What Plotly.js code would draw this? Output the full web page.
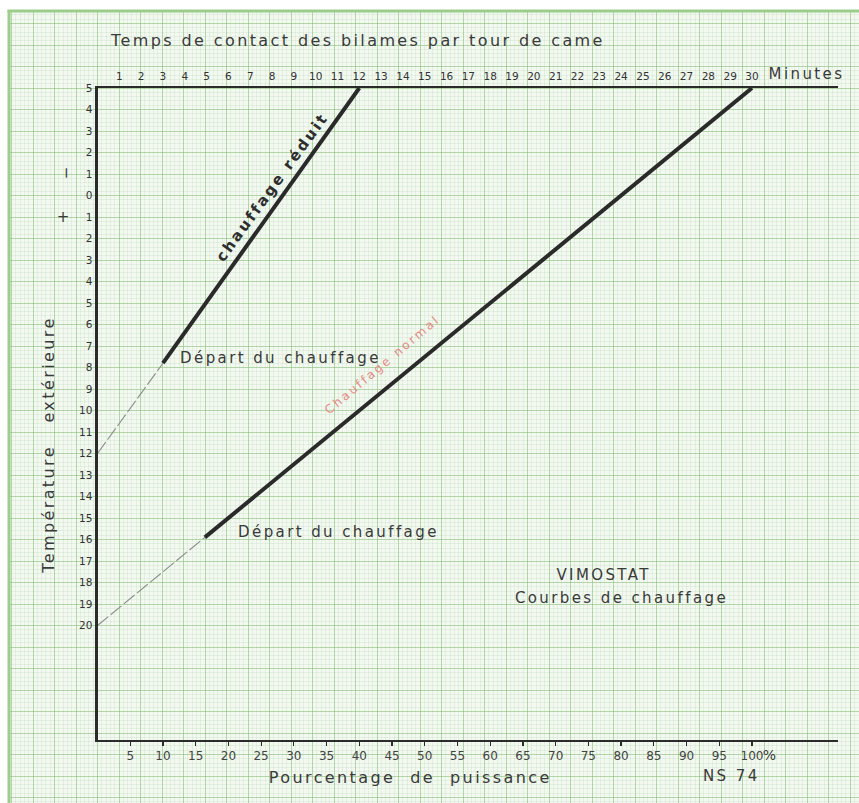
<!DOCTYPE html>
<html>
<head>
<meta charset="utf-8">
<script src="https://cdn.plot.ly/plotly-3.0.1.min.js"></script>
<style>
html,body{margin:0;padding:0;background:#fff;}
#chart{width:859px;height:803px;}
#chart .annotation-text{letter-spacing:2.4px;}
</style>
</head>
<body>
<div id="chart"></div>
<script>
// ---- data ----
const percentTicks = [5,10,15,20,25,30,35,40,45,50,55,60,65,70,75,80,85,90,95,100];
const minuteTicks = [1,2,3,4,5,6,7,8,9,10,11,12,13,14,15,16,17,18,19,20,21,22,23,24,25,26,27,28,29,30];
const tempTicks = [-5,-4,-3,-2,-1,0,1,2,3,4,5,6,7,8,9,10,11,12,13,14,15,16,17,18,19,20];
const tempLabels = ["5","4","3","2","1","0","1","2","3","4","5","6","7","8","9","10","11","12","13","14","15","16","17","18","19","20"];

// chauffage réduit
const reduitDashX = [0, 10];
const reduitDashY = [12, 7.8];
const reduitX = [10, 40];
const reduitY = [7.8, -5];
// chauffage normal
const normalDashX = [0, 16.4];
const normalDashY = [20, 15.9];
const normalX = [16.4, 100];
const normalY = [15.9, -5];

// ---- layout helpers (pixel geometry) ----
const W = 859, H = 803;
const X0 = 97.5, XEND = 838, PXPCT = 6.545;
const YTOP = 88, YBOT = 740, PXDEG = 21.5;
const xMax = (XEND - X0) / PXPCT;
const yMax = -5 + (YBOT - YTOP) / PXDEG;
const FONT = "DejaVu Sans";
const INK = "#3a3a3a";
const S = "\u00a0";

const traces = [
  {x: reduitDashX, y: reduitDashY, xaxis: "x2", yaxis: "y2", mode: "lines",
   line: {color: "#8c8c8c", width: 1.1, dash: "14px,3px"}, hoverinfo: "skip"},
  {x: reduitX, y: reduitY, xaxis: "x2", yaxis: "y2", mode: "lines",
   line: {color: "#2a2a2a", width: 4}, hoverinfo: "skip"},
  {x: normalDashX, y: normalDashY, xaxis: "x2", yaxis: "y2", mode: "lines",
   line: {color: "#8c8c8c", width: 1.1, dash: "14px,3px"}, hoverinfo: "skip"},
  {x: normalX, y: normalY, xaxis: "x2", yaxis: "y2", mode: "lines",
   line: {color: "#2a2a2a", width: 4}, hoverinfo: "skip"},
  {x: [0], y: [0], xaxis: "x3", yaxis: "y2", mode: "markers", marker: {opacity: 0}, hoverinfo: "skip"},
  {x: [100], y: [100], xaxis: "x", yaxis: "y", mode: "markers", marker: {opacity: 0}, hoverinfo: "skip"}
];

function ann(text, x, y, size, opts) {
  return Object.assign({text: text, x: x, y: y, xref: "x", yref: "y", showarrow: false,
    font: {family: FONT, size: size, color: INK}, xanchor: "center", yanchor: "middle"}, opts || {});
}
function dann(text, x, y, size, opts) {
  return ann(text, x, y, size, Object.assign({xref: "x2", yref: "y2"}, opts || {}));
}

const annotations = [
  ann("Temps de contact des bilames par tour de came", 357, 40, 16),
  ann("Minutes", 806, 74, 15),
  ann("Température" + S + S + S + "extérieure", 48, 445, 16, {textangle: -90}),
  ann("Pourcentage" + S + S + "de" + S + S + "puissance", 410, 777, 16),
  ann("NS 74", 731, 776, 15),
  ann("\u2212", 66, 172, 15, {textangle: -90}),
  ann("+", 64, 217, 15),
  dann("%", 100, yMax, 14, {xanchor: "left", yanchor: "middle", xshift: 10, yshift: -15}),
  dann("Départ du chauffage", 28.0, 7.56, 15),
  dann("Départ du chauffage", 36.8, 15.65, 15),
  dann("VIMOSTAT", 77.4, 17.65, 15),
  dann("Courbes de chauffage", 80.0, 18.72, 15),
  dann("<b>chauffage réduit</b>", 26.7, -0.4, 15, {textangle: -54, font: {family: FONT, size: 15, color: "#2e2e2e"}}),
  dann("Chauffage normal", 43.5, 7.9, 12, {textangle: -40, font: {family: FONT, size: 12, color: "#e58a84"}})
];

const shapes = [
  {type: "rect", xref: "paper", yref: "paper", x0: 9 / W, x1: 1, y0: 0, y1: 1 - 11 / H,
   fillcolor: "#f3f8f1", line: {width: 0}, layer: "below"},
  {type: "line", xref: "paper", yref: "paper", x0: 9 / W, x1: 9 / W, y0: 0, y1: 1 - 10 / H,
   line: {color: "#9ccd8c", width: 3}},
  {type: "line", xref: "paper", yref: "paper", x0: 7.5 / W, x1: 1, y0: 1 - 11 / H, y1: 1 - 11 / H,
   line: {color: "#9ccd8c", width: 3}}
];

const gridMinor = "rgba(140,195,130,0.21)";
const gridMajor = "rgba(125,185,110,0.55)";

const layout = {
  width: W, height: H,
  margin: {l: 0, r: 0, t: 0, b: 0, pad: 0},
  paper_bgcolor: "#ffffff",
  plot_bgcolor: "rgba(0,0,0,0)",
  showlegend: false,
  xaxis: {domain: [9 / W, 1], range: [9, W], showticklabels: false, zeroline: false, showline: false,
          tick0: X0, dtick: 21.5, showgrid: true, gridcolor: gridMajor, gridwidth: 1,
          minor: {tick0: X0, dtick: 4.3, showgrid: true, gridcolor: gridMinor, gridwidth: 0.7},
          fixedrange: true},
  yaxis: {domain: [0, 1 - 11 / H], range: [H, 11], showticklabels: false, zeroline: false, showline: false,
          tick0: YTOP, dtick: 21.5, showgrid: true, gridcolor: gridMajor, gridwidth: 1,
          minor: {tick0: YTOP, dtick: 4.3, showgrid: true, gridcolor: gridMinor, gridwidth: 0.7},
          fixedrange: true},
  xaxis2: {domain: [X0 / W, XEND / W], range: [0, xMax], anchor: "y2", side: "bottom",
           showgrid: false, zeroline: false, showline: true, mirror: true, linecolor: "#2b2b2b", linewidth: 2,
           tickvals: percentTicks, ticktext: percentTicks.map(String), ticks: "outside", ticklen: 4,
           tickwidth: 1.2, tickcolor: "#2b2b2b",
           tickfont: {family: FONT, size: 12, color: "#444"}},
  xaxis3: {overlaying: "x2", anchor: "y2", side: "top", range: [0, xMax * 0.3],
           showgrid: false, zeroline: false, showline: false, ticks: "", ticklabelstandoff: 5,
           tickvals: minuteTicks, ticktext: minuteTicks.map(String),
           tickfont: {family: FONT, size: 10.5, color: "#333"}},
  yaxis2: {domain: [1 - YBOT / H, 1 - YTOP / H], range: [yMax, -5], anchor: "x2", side: "left",
           showgrid: false, zeroline: false, showline: true, linecolor: "#2b2b2b", linewidth: 3,
           tickvals: tempTicks, ticktext: tempLabels, ticks: "",
           tickfont: {family: FONT, size: 10.5, color: "#333"}},
  annotations: annotations,
  shapes: shapes
};

Plotly.newPlot("chart", traces, layout, {staticPlot: true, displayModeBar: false});
</script>
</body>
</html>
